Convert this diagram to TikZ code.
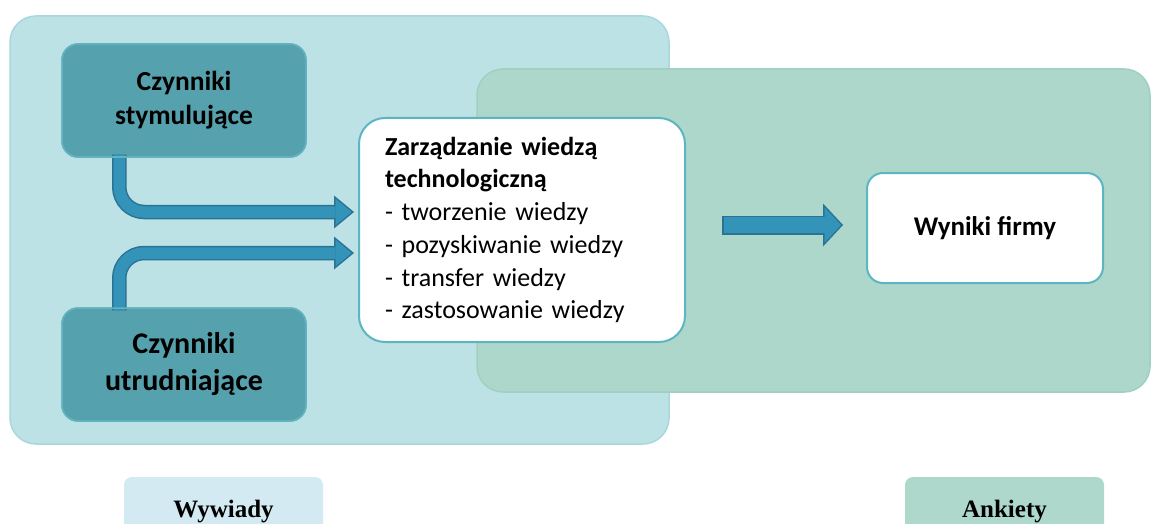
\documentclass[tikz,border=0pt]{standalone}
\usepackage{fontspec}
\setmainfont{Carlito}
\newfontfamily\labelserif{Liberation Serif}
\usetikzlibrary{arrows.meta,calc}

\definecolor{interviewfill}{HTML}{BDE2E5}
\definecolor{interviewline}{HTML}{A8D7DD}
\definecolor{surveyfill}{HTML}{ADD7CB}
\definecolor{surveyline}{HTML}{9FD0C2}
\definecolor{factorfill}{HTML}{55A1AD}
\definecolor{factorline}{HTML}{62B3BE}
\definecolor{boxline}{HTML}{5CB6C2}
\definecolor{arrowfill}{HTML}{3493B9}
\definecolor{arrowline}{HTML}{2B7394}
\definecolor{tagblue}{HTML}{D3EAF2}
\definecolor{taggreen}{HTML}{ADD8CB}

\tikzset{
  region/.style={line width=1.5pt, rounded corners=26pt},
  factorbox/.style={draw=factorline, fill=factorfill, line width=1.5pt,
    rounded corners=16pt, minimum width=244pt, minimum height=113pt,
    inner sep=0pt, align=center},
  whitebox/.style={draw=boxline, fill=white, line width=2pt, inner sep=0pt},
  tagbox/.style={rounded corners=8pt, minimum width=199pt,
    minimum height=63pt, inner sep=0pt},
  tagtext/.style={font=\labelserif\fontsize{25}{30}\selectfont\bfseries,
    inner sep=0pt, anchor=base},
  arrowouter/.style={draw=arrowline, line width=14.5pt, rounded corners=25pt},
  arrowinner/.style={draw=arrowfill, line width=11.5pt, rounded corners=25pt},
}

\begin{document}
\begin{tikzpicture}[x=1pt, y=-1pt]
\clip (0,0) rectangle (1151,524);
\fill[white] (0,0) rectangle (1151,524);

% interview and survey regions
\path[region, draw=interviewline, fill=interviewfill] (10,16) rectangle (669,444);
\path[region, draw=surveyline, fill=surveyfill] (477,69) rectangle (1150,392);

% boxes
\node[factorbox, font=\fontsize{27.5}{34}\selectfont\bfseries] (s) at (184,100.5)
  {Czynniki\\stymulujące};
\node[factorbox, font=\fontsize{30}{37}\selectfont\bfseries] (u) at (184,364.5)
  {Czynniki\\utrudniające};
\node[whitebox, rounded corners=26pt, text width=274pt, inner xsep=26pt,
  minimum height=224pt, align=left, font=\fontsize{26}{32.7}\selectfont] (m) at (522,230)
  {\textbf{Zarządzanie wiedzą}\\\textbf{technologiczną}\\- tworzenie wiedzy\\
   - pozyskiwanie wiedzy\\- transfer wiedzy\\- zastosowanie wiedzy};
\node[whitebox, rounded corners=16pt, minimum width=236pt, minimum height=110pt,
  font=\fontsize{27}{33}\selectfont\bfseries] (w) at (985,228) {Wyniki firmy};

% connectors from the factor boxes to knowledge management
\draw[arrowouter, -{Triangle[length=20pt,width=33pt,line width=0pt]}]
  ($(s.south west)+(58,-3)$) |- ($(m.west)+(-4,-18)$);
\draw[arrowinner, shorten >=2.36pt, -{Triangle[length=16.1pt,width=26.6pt,line width=0pt]}]
  ($(s.south west)+(58,-3)$) |- ($(m.west)+(-4,-18)$);
\draw[arrowouter, -{Triangle[length=20pt,width=33pt,line width=0pt]}]
  ($(u.north west)+(58,3)$) |- ($(m.west)+(-4,23)$);
\draw[arrowinner, shorten >=2.36pt, -{Triangle[length=16.1pt,width=26.6pt,line width=0pt]}]
  ($(u.north west)+(58,3)$) |- ($(m.west)+(-4,23)$);

% connector from knowledge management to company results
\draw[arrowouter, line width=19pt, -{Triangle[length=20pt,width=43pt,line width=0pt]}]
  ($(m.east)+(36,-5)$) -- ($(w.west)+(-23,-3)$);
\draw[arrowinner, line width=16pt, shorten <=1.5pt, shorten >=2.05pt,
  -{Triangle[length=16.45pt,width=35.4pt,line width=0pt]}]
  ($(m.east)+(36,-5)$) -- ($(w.west)+(-23,-3)$);

% redraw box borders over the connector ends
\node[factorbox, fill=none, minimum width=244pt, minimum height=113pt] (s2) at (s) {};
\node[factorbox, fill=none, minimum width=244pt, minimum height=113pt] (u2) at (u) {};

% method tags
\node[tagbox, fill=tagblue] (iv) at (223.5,508.5) {};
\node[tagtext] (ivt) at (223.5,517) {Wywiady};
\node[tagbox, fill=taggreen] (sv) at (1004.5,508.5) {};
\node[tagtext] (svt) at (1004.5,517) {Ankiety};
\end{tikzpicture}
\end{document}
